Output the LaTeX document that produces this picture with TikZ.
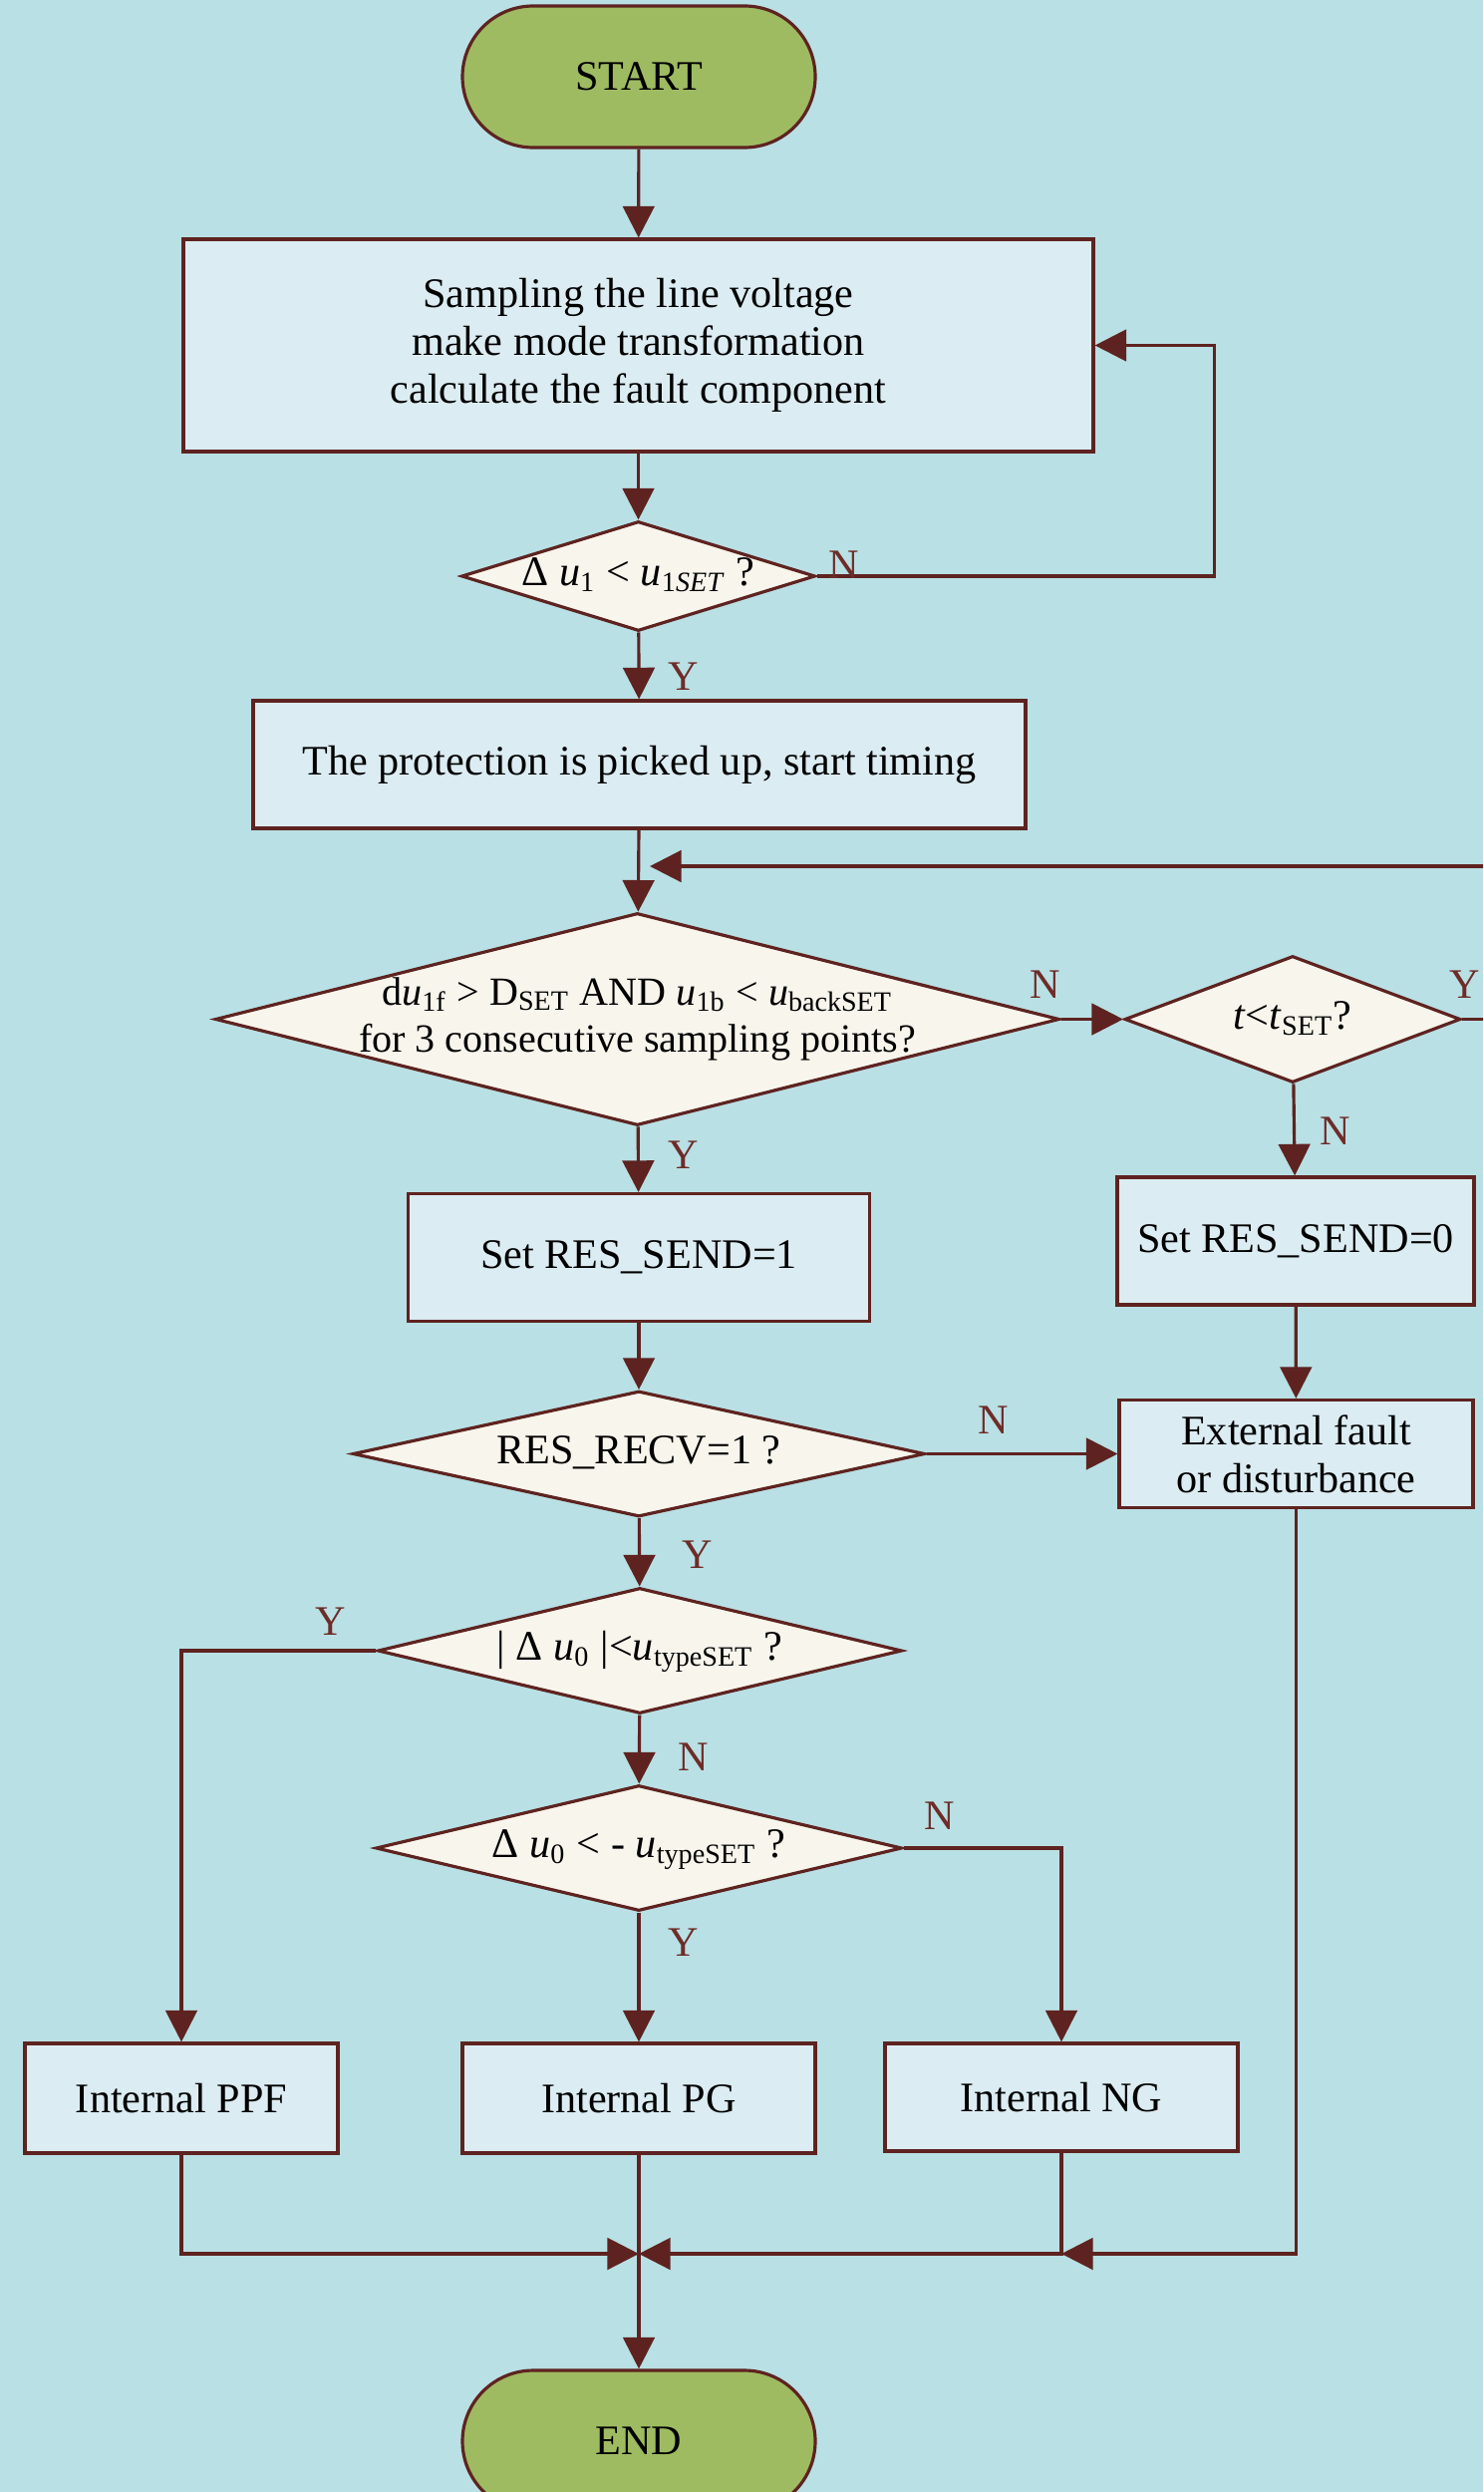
\documentclass[tikz,border=0pt]{standalone}
\usepackage{fontspec}
\setmainfont{Liberation Serif}
\usetikzlibrary{shapes.geometric,arrows.meta}
\definecolor{bgc}{HTML}{B9E0E4}
\definecolor{boxc}{HTML}{DBECF2}
\definecolor{diac}{HTML}{F7F5EC}
\definecolor{termc}{HTML}{9EBB61}
\definecolor{lnc}{HTML}{5E2320}
\definecolor{lblc}{HTML}{6E2C28}
\tikzset{
	term/.style={rectangle, rounded corners=0.71cm, draw=lnc, fill=termc, minimum width=3.54cm, minimum height=1.42cm},
	proc/.style={rectangle, draw=lnc, fill=boxc, align=center, inner sep=0pt},
	decision/.style={diamond, draw=lnc, fill=diac, inner sep=0pt},
	yn/.style={text=lblc, inner sep=0pt}
}
\newcommand{\dtext}[1]{\makebox[0pt]{\begin{tabular}{@{}c@{}}#1\end{tabular}}}
\newcommand{\ui}{\textit{u}}
\begin{document}
\begin{tikzpicture}[>={Triangle[length=9pt,width=9pt]},line width=0.9pt,draw=lnc,font=\fontsize{12pt}{13.6pt}\selectfont]
		\def\W{14.88}
		\def\H{25}
		\useasboundingbox (0,0) rectangle (\W,-\H);
		\fill [bgc] (0,0) rectangle (\W,-\H);
		\clip (0,0) rectangle (\W,-\H);
		%
		\node [term] (start) at (6.41,-0.77) {START};
		\node [proc, minimum width=9.13cm, minimum height=2.13cm] (sample) at (6.405,-3.465) {Sampling the line voltage\\ make mode transformation\\calculate the fault component};
		\node [decision, minimum width=3.55cm, minimum height=1.10cm] (du1) at (6.405,-5.78) {\dtext{Δ \ui\textsubscript{1} < \ui\textsubscript{1\textit{SET}} ?}};
		\node [proc, minimum width=7.75cm, minimum height=1.28cm] (pickup) at (6.415,-7.67) {The protection is picked up, start timing};
		\node [decision, minimum width=8.47cm, minimum height=2.13cm, font=\fontsize{11.4pt}{13.6pt}\selectfont] (crit) at (6.395,-10.225) {\dtext{d\ui\textsubscript{1f} > D\textsubscript{SET} AND \ui\textsubscript{1b} < \ui\textsubscript{backSET}\\for 3 consecutive sampling points?}};
		\node [decision, minimum width=3.37cm, minimum height=1.27cm] (tset) at (12.97,-10.225) {\dtext{\textit{t}<\textit{t}\textsubscript{SET}?}};
		\node [proc, minimum width=4.63cm, minimum height=1.28cm] (send1) at (6.41,-12.615) {Set RES\_SEND=1};
		\node [proc, minimum width=3.58cm, minimum height=1.28cm] (send0) at (13.0,-12.45) {Set RES\_SEND=0};
		\node [decision, minimum width=5.74cm, minimum height=1.26cm] (recv) at (6.41,-14.585) {\dtext{RES\_RECV=1 ?}};
		\node [proc, minimum width=3.55cm, minimum height=1.08cm] (ext) at (13.005,-14.585) {External fault\\or disturbance};
		\node [decision, minimum width=5.26cm, minimum height=1.26cm] (absu) at (6.42,-16.56) {\dtext{| Δ \ui\textsubscript{0} |<\ui\textsubscript{typeSET} ?}};
		\node [decision, minimum width=5.28cm, minimum height=1.26cm] (negu) at (6.41,-18.54) {\dtext{Δ \ui\textsubscript{0} < - \ui\textsubscript{typeSET} ?}};
		\node [proc, minimum width=3.14cm, minimum height=1.10cm] (ppf) at (1.82,-21.05) {Internal PPF};
		\node [proc, minimum width=3.54cm, minimum height=1.10cm] (pg) at (6.41,-21.05) {Internal PG};
		\node [proc, minimum width=3.54cm, minimum height=1.08cm] (ng) at (10.65,-21.04) {Internal NG};
		\node [term] (end) at (6.41,-24.49) {END};
		\coordinate (mrg) at (6.41,-22.61);
		\coordinate (fb) at (6.52,-8.69);
		%
		\draw [->] (start)--(sample);
		\draw [->] (sample)--(du1);
		\draw [->] (du1)--(pickup);
		\draw [->] (du1.east)--++(3.99,0) |- (sample.east);
		\draw [->] (pickup)--(crit);
		\draw [->] (crit)--(tset);
		\draw [->] (tset.east)--++(0.5,0) |- (fb);
		\draw [->] (crit)--(send1);
		\draw [->] (tset)--(send0);
		\draw [->] (send1)--(recv);
		\draw [->] (send0)--(ext);
		\draw [->] (recv)--(ext);
		\draw [->] (recv)--(absu);
		\draw [->] (absu)--(negu);
		\draw [->] (absu.west) -| (ppf);
		\draw [->] (negu.east) -| (ng);
		\draw [->] (negu)--(pg);
		\draw [->] (ppf) |- (mrg);
		\draw [->] (ng) |- (mrg);
		\draw [->] (ext) |- (ng |- mrg);
		\draw [->] (pg)--(end);
		%
		\node [yn] (n1) at (8.47,-5.67) {N};
		\node [yn] (y1) at (6.86,-6.79) {Y};
		\node [yn] (n2) at (10.49,-9.88) {N};
		\node [yn] (y2) at (14.70,-9.88) {Y};
		\node [yn] (y3) at (6.86,-11.59) {Y};
		\node [yn] (n3) at (13.40,-11.35) {N};
		\node [yn] (n4) at (9.97,-14.25) {N};
		\node [yn] (y4) at (7.00,-15.60) {Y};
		\node [yn] (y5) at (3.32,-16.27) {Y};
		\node [yn] (n5) at (6.96,-17.63) {N};
		\node [yn] (n6) at (9.43,-18.22) {N};
		\node [yn] (y6) at (6.86,-19.49) {Y};
	\end{tikzpicture}
\end{document}
